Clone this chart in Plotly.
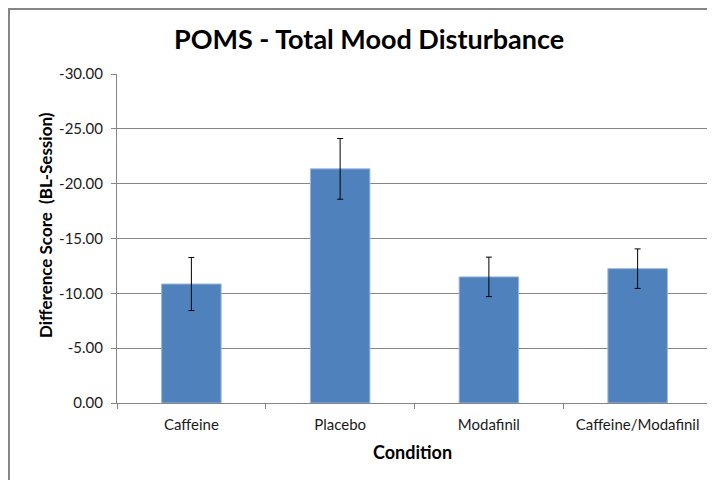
import plotly.graph_objects as go

conditions = ['Caffeine', 'Placebo', 'Modafinil', 'Caffeine/Modafinil']
diff_scores = [-10.85, -21.35, -11.5, -12.25]
error_sizes = [2.42, 2.77, 1.8, 1.8]
y_ticks = [0, -5, -10, -15, -20, -25, -30]
y_tick_labels = ['0.00', '-5.00', '-10.00', '-15.00', '-20.00', '-25.00', '-30.00']

fig = go.Figure()

fig.add_trace(go.Bar(
    x=conditions,
    y=diff_scores,
    marker_color='#4F81BD',
    marker_line=dict(color='#9BB7D9', width=1),
    width=0.4,
    error_y=dict(type='data', array=error_sizes, color='#000000', thickness=1, width=3),
))

axis_grey = '#868686'

fig.update_layout(
    width=715, height=480,
    margin=dict(l=109, r=11, t=66, b=85),
    paper_bgcolor='white',
    plot_bgcolor='white',
    showlegend=False,
    font=dict(family='Lato, Open Sans, sans-serif', color='#000000'),
    title=dict(
        text='<b>POMS - Total Mood Disturbance</b>',
        x=0.505, xanchor='center', y=0.935, yanchor='middle',
        font=dict(size=27, family='Lato, sans-serif', color='#000000'),
    ),
    xaxis=dict(
        tickfont=dict(size=15, color='#1a1a1a'),
        showline=True, linecolor=axis_grey, linewidth=1,
        ticks='outside', tickson='boundaries', ticklen=5, tickcolor=axis_grey,
        ticklabelstandoff=8,
        showgrid=False,
    ),
    yaxis=dict(
        range=[0, -30],
        tickvals=y_ticks,
        ticktext=y_tick_labels,
        tickfont=dict(size=15, color='#1a1a1a'),
        showline=True, linecolor=axis_grey, linewidth=1,
        ticks='outside', ticklen=5, tickcolor=axis_grey,
        ticklabelstandoff=5,
        showgrid=True, gridcolor=axis_grey, gridwidth=1,
        zeroline=False,
    ),
    annotations=[
        dict(text='<b>Difference Score  (BL-Session)</b>', xref='paper', yref='paper',
             x=-0.121, y=0.541, xanchor='center', yanchor='middle', textangle=-90,
             showarrow=False, font=dict(size=17, color='#000000')),
        dict(text='<b>Condition</b>', xref='paper', yref='paper',
             x=0.497, y=-0.149, xanchor='center', yanchor='middle',
             showarrow=False, font=dict(size=18, color='#000000')),
    ],
    shapes=[dict(
        type='rect', xref='paper', yref='paper',
        x0=-0.1815, x1=1.2, y0=-0.4, y1=1.1976,
        line=dict(color=axis_grey, width=2),
        fillcolor='rgba(0,0,0,0)', layer='above',
    )],
)

fig.write_html("out.html")
